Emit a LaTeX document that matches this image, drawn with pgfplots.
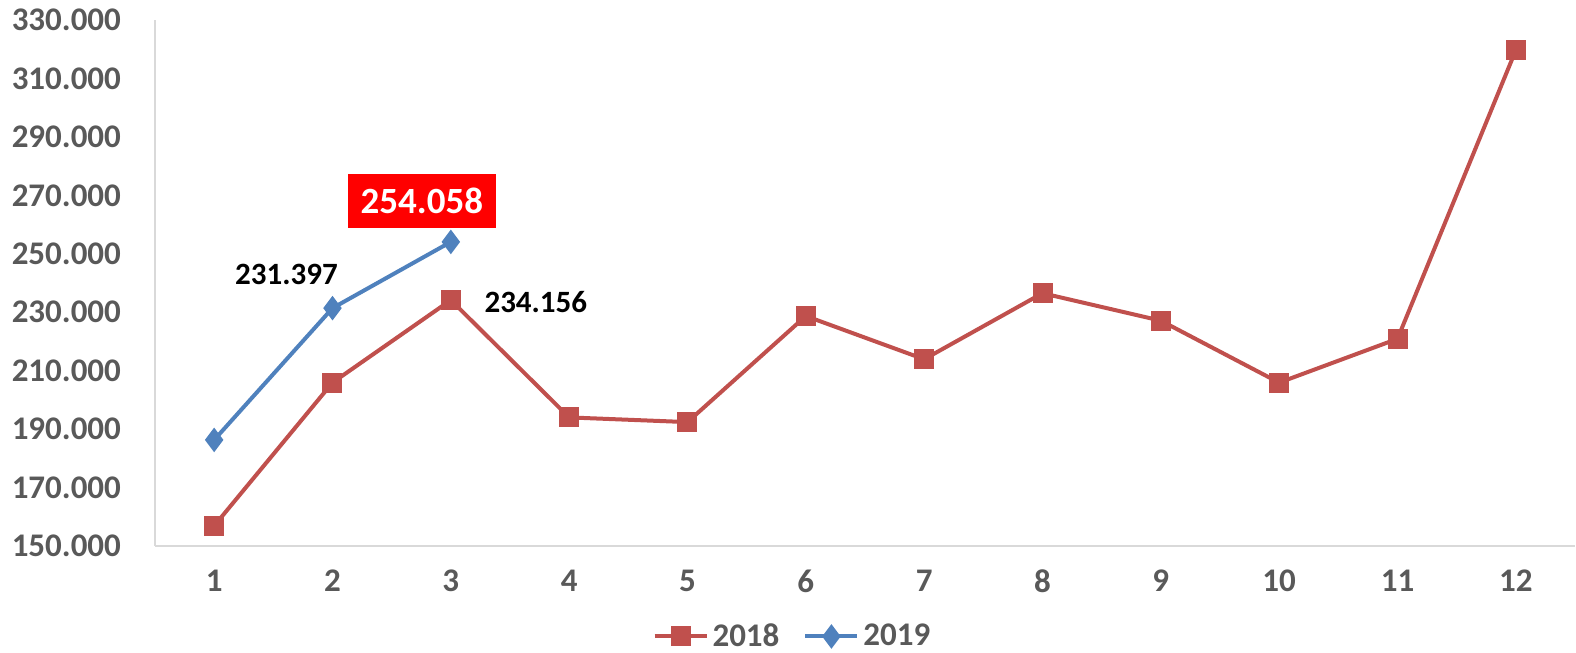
\documentclass[border=0pt]{standalone}
\usepackage{fontspec}
\setmainfont{Carlito}
\usepackage{pgfplots}
\pgfplotsset{compat=1.18}
\definecolor{cRed}{HTML}{C0504D}
\definecolor{cBlue}{HTML}{4F81BD}
\definecolor{cGray}{HTML}{595959}
\definecolor{cAxis}{HTML}{D9D9D9}
\begin{document}
\begin{tikzpicture}
\useasboundingbox (-77.5pt,-53.5pt) rectangle (710.5pt,273pt);
\begin{axis}[
  at={(0pt,0pt)}, anchor=south west,
  scale only axis, width=710pt, height=263pt,
  xmin=0.5, xmax=12.5, ymin=150, ymax=330,
  xtick={1,...,12}, ytick={150,170,...,330},
  axis x line*=bottom, axis y line*=left,
  axis line style={-, draw=cAxis, line width=1pt},
  major tick length=0pt,
  tick label style={font=\bfseries\fontsize{16.5}{18}\selectfont, text=cGray},
  /pgf/number format/assume math mode=true,
  yticklabel={\pgfmathprintnumber[fixed,fixed zerofill,precision=3]{\tick}},
  yticklabel style={xshift=-13.5pt},
  xticklabel style={yshift=-8.5pt},
  legend columns=2,
  legend style={at={(0.4496,-0.172)}, anchor=center, draw=none, fill=none, inner sep=0pt,
    font=\bfseries\fontsize{16.5}{18}\selectfont, text=cGray,
    nodes={inner sep=2pt},
    /tikz/every even column/.append style={column sep=10pt}},
  legend image code/.code={\draw[mark repeat=2,mark phase=2] plot coordinates {(0pt,0pt)(13pt,0pt)(26pt,0pt)};},
]
\addplot[color=cRed, line width=2pt, mark=square*, mark size=4pt, mark options={solid}]
  coordinates {(1,156.9)(2,205.9)(3,234.156)(4,194.0)(5,192.4)(6,228.7)(7,213.9)(8,236.5)(9,227.1)(10,205.9)(11,220.9)(12,319.7)};
\addlegendentry{2018}
\addplot[color=cBlue, line width=2pt, mark=diamond*, mark size=4.5pt, mark options={solid}]
  coordinates {(1,186.3)(2,231.397)(3,254.058)};
\addlegendentry{2019}
\node[font=\bfseries\fontsize{15.5}{17}\selectfont, text=black] at ([xshift=-23pt,yshift=17pt]axis cs:2,231.397) {231.397};
\node[font=\bfseries\fontsize{15.5}{17}\selectfont, text=black] at ([xshift=42.5pt,yshift=-1pt]axis cs:3,234.156) {234.156};
\node[font=\bfseries\fontsize{18.5}{20}\selectfont, text=white, fill=red, minimum width=74pt, minimum height=27pt, inner sep=0pt] at ([xshift=-14.5pt,yshift=20.5pt]axis cs:3,254.058) {254.058};
\end{axis}
\end{tikzpicture}
\end{document}
